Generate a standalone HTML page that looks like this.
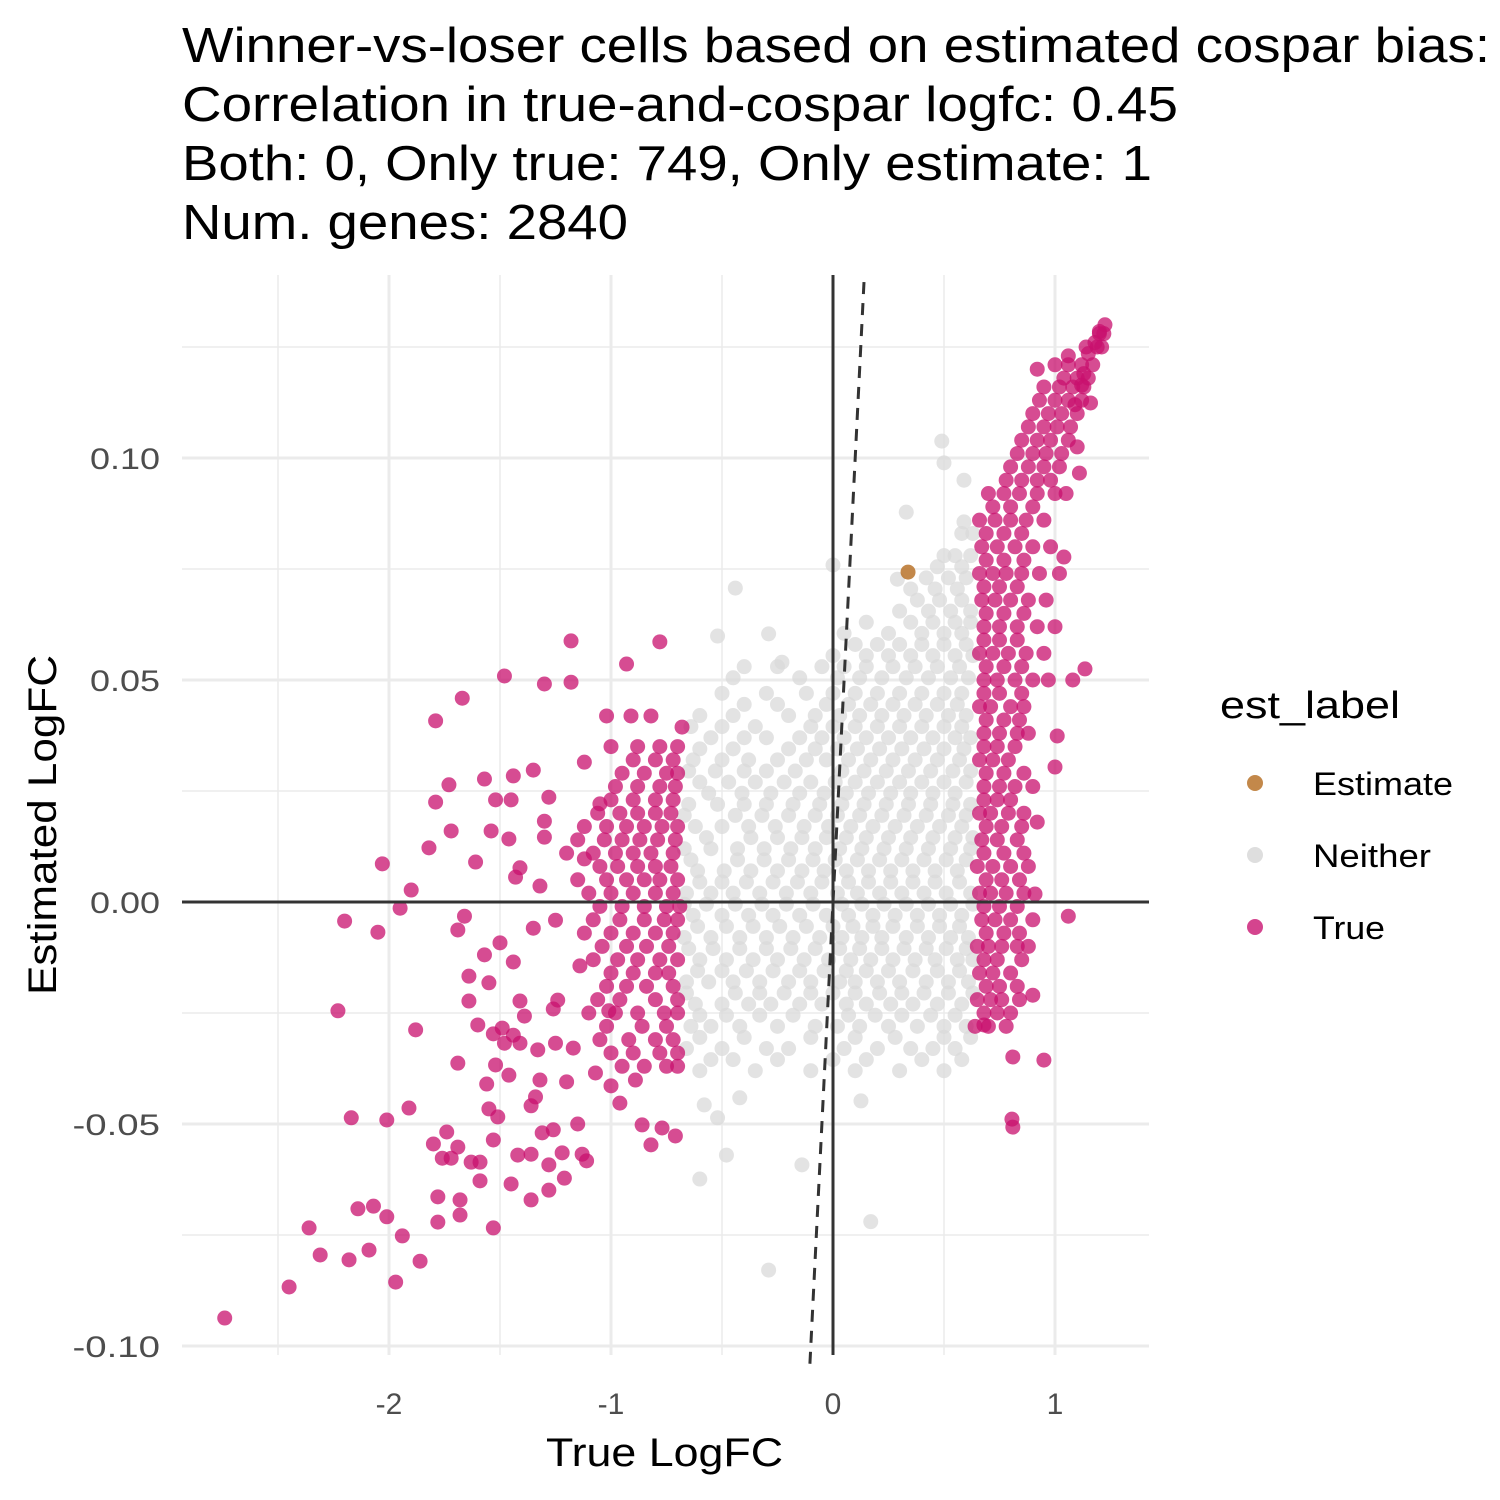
<!DOCTYPE html>
<html><head><meta charset="utf-8"><style>
html,body{margin:0;padding:0;background:#fff;}
svg{display:block;font-family:"Liberation Sans",sans-serif;}
</style></head><body>
<svg id="chart" width="1500" height="1500" viewBox="0 0 1500 1500" xmlns="http://www.w3.org/2000/svg">
<rect width="1500" height="1500" fill="#fff"/>
<g font-size="49" fill="#000" lengthAdjust="spacingAndGlyphs">
<text x="182" y="62" textLength="1308" lengthAdjust="spacingAndGlyphs">Winner-vs-loser cells based on estimated cospar bias:</text>
<text x="182" y="121" textLength="996" lengthAdjust="spacingAndGlyphs">Correlation in true-and-cospar logfc: 0.45</text>
<text x="182" y="180" textLength="970" lengthAdjust="spacingAndGlyphs">Both: 0, Only true: 749, Only estimate: 1</text>
<text x="182" y="239" textLength="446" lengthAdjust="spacingAndGlyphs">Num. genes: 2840</text>
</g>
<g id="grid"></g>
<g id="points"></g>
<g id="refs"></g>
<g id="axes"></g>
<text x="546" y="1466" font-size="40" textLength="237" lengthAdjust="spacingAndGlyphs">True LogFC</text>
<text transform="translate(56,995) rotate(-90)" font-size="40" textLength="340" lengthAdjust="spacingAndGlyphs">Estimated LogFC</text>
<g>
<text x="1220" y="718" font-size="38" textLength="180" lengthAdjust="spacingAndGlyphs">est_label</text>
<g><circle cx="1255" cy="783" r="8" fill="#B8732A" fill-opacity="0.85"/><text x="1313" y="795" font-size="32" textLength="140" lengthAdjust="spacingAndGlyphs">Estimate</text></g>
<g><circle cx="1255" cy="855" r="8" fill="#D6D6D6" fill-opacity="0.8"/><text x="1313" y="867" font-size="32" textLength="118" lengthAdjust="spacingAndGlyphs">Neither</text></g>
<g><circle cx="1255" cy="927" r="8" fill="#C8106E" fill-opacity="0.78"/><text x="1313" y="939" font-size="32" textLength="72" lengthAdjust="spacingAndGlyphs">True</text></g>
</g>
</svg>
<script>
const xTicks=[-2,-1,0,1];
const xTickLabels=["-2","-1","0","1"];
const xMinor=[-2.5,-1.5,-0.5,0.5];
const yTicks=[-0.10,-0.05,0.00,0.05,0.10];
const yTickLabels=["-0.10","-0.05","0.00","0.05","0.10"];
const yMinor=[-0.075,-0.025,0.025,0.075,0.125];

const trueOutX=[-2.74,-2.45,-2.36,-2.31,-2.18,-2.09,-2.14,-2.07,-2.01,-1.97,-1.94,-1.86,-2.23,-2.20,-2.17,-2.05,-2.03,-2.01,-1.95,-1.90,-1.91,-1.88,-1.82,-1.80,-1.79,-1.79,-1.78,-1.78,-1.76,-1.74,-1.73,-1.72,-1.72,-1.69,-1.69,-1.68,-1.68,-1.69,-1.67,-1.66,-1.64,-1.64,-1.63,-1.61,-1.60,-1.59,-1.59,-1.57,-1.57,-1.56,-1.55,-1.55,-1.54,-1.53,-1.53,-1.53,-1.52,-1.52,-1.51,-1.50,-1.49,-1.48,-1.48,-1.46,-1.46,-1.45,-1.45,-1.44,-1.44,-1.44,-1.43,-1.42,-1.41,-1.41,-1.41,-1.39,-1.36,-1.36,-1.36,-1.35,-1.35,-1.34,-1.33,-1.32,-1.32,-1.31,-1.30,-1.30,-1.30,-1.28,-1.28,-1.28,-1.26,-1.26,-1.25,-1.25,-1.24,-1.22,-1.21,-1.20,-1.18,-1.18,-1.17,-1.15,-1.14,-1.13,-1.12,-1.12,-1.11,-1.07,-1.05,-1.02,-1.01,-1.00,-0.96,-0.93,-0.91,-0.89,-0.86,-0.82,-0.82,-0.78,-0.77,-0.71,-0.68,
1.225,0.806,0.81,0.95,0.81,0.68,0.90,1.06,0.91,0.92,1.0,1.01,1.135,1.08,1.04,1.11,1.10,1.16,0.92,1.06,1.12,1.20,1.18,1.15,1.13,1.09];
const trueOutY=[-0.0937,-0.0867,-0.0734,-0.0795,-0.0806,-0.0784,-0.0691,-0.0685,-0.0709,-0.0856,-0.0752,-0.0809,-0.0245,-0.0043,-0.0486,-0.0068,0.0086,-0.0491,-0.0014,0.0027,-0.0464,-0.0288,0.0122,-0.0545,0.0408,0.0225,-0.0664,-0.0721,-0.0577,-0.0518,0.0264,0.016,-0.0577,-0.0363,-0.0063,-0.0671,-0.0705,-0.0552,0.0459,-0.0032,-0.0167,-0.0223,-0.0586,0.009,-0.0277,-0.0628,-0.0586,0.0277,-0.0119,-0.041,-0.0466,-0.0182,0.016,-0.0297,-0.0536,-0.0734,0.023,-0.0367,-0.0484,-0.0092,-0.0284,0.0509,-0.0318,0.0142,-0.039,0.023,-0.0635,0.0284,-0.0135,-0.03,0.0056,-0.057,-0.0318,0.0077,-0.0223,-0.0257,-0.0671,-0.0459,-0.0568,0.0297,-0.0059,-0.0439,-0.0333,-0.0401,0.0036,-0.052,0.0491,0.0182,0.0146,0.0236,-0.0592,-0.0649,-0.0241,-0.0513,-0.0318,-0.0041,-0.0221,-0.0565,-0.0622,-0.0405,0.0495,0.0588,-0.0329,-0.05,-0.0144,-0.0568,0.0315,0.0097,-0.0583,-0.0385,0.0221,0.0419,-0.0245,-0.0414,-0.0453,0.0536,0.0419,-0.0401,-0.0502,0.0419,-0.0547,0.0586,-0.0509,-0.0527,0.0394,
0.130,-0.0489,-0.0507,-0.0356,-0.0349,-0.0277,-0.021,-0.0032,0.0018,0.018,0.0304,0.0374,0.0525,0.05,0.0777,0.0966,0.1025,0.1124,0.12,0.123,0.1164,0.1285,0.126,0.1235,0.119,0.112];

const trueRowY=[-0.037,-0.031,-0.025,-0.019,-0.013,-0.007,-0.001,0.005,0.011,0.017,0.023,0.029,0.035,
-0.034,-0.028,-0.022,-0.016,-0.010,-0.004,0.002,0.008,0.014,0.020,0.026,0.032,
-0.028,-0.022,-0.016,-0.010,-0.004,0.002,0.008,0.014,0.020,0.026,0.032,0.038,0.044,0.050,0.056,0.062,0.068,0.074,0.080,0.086,0.092,0.098,0.104,0.110,0.116,0.121,0.125,0.128,
-0.025,-0.019,-0.013,-0.007,-0.001,0.005,0.011,0.017,0.023,0.029,0.035,0.041,0.047,0.053,0.059,0.065,0.071,0.077,0.083,0.089,0.095,0.101,0.107,0.113,0.118];
const trueRowX=[[-0.95,-0.85,-0.75,-0.70],[-1.05,-0.92,-0.80,-0.72],[-1.10,-0.98,-0.88,-0.76,-0.70],[-1.02,-0.93,-0.84,-0.72],[-1.08,-0.97,-0.88,-0.78,-0.70],[-1.12,-1.00,-0.90,-0.80,-0.72],[-1.05,-0.95,-0.85,-0.75,-0.69],[-1.15,-1.02,-0.93,-0.85,-0.78,-0.70],[-1.20,-1.08,-0.98,-0.90,-0.82,-0.72],[-1.12,-1.02,-0.93,-0.85,-0.77,-0.70],[-1.00,-0.90,-0.80,-0.72],[-0.95,-0.85,-0.75,-0.70],[-1.00,-0.88,-0.78,-0.70],
[-1.0,-0.9,-0.78,-0.7],[-1.02,-0.86,-0.75],[-1.06,-0.96,-0.8,-0.7],[-1.0,-0.9,-0.8,-0.74],[-1.04,-0.93,-0.84,-0.74],[-1.08,-0.96,-0.85,-0.76,-0.7],[-1.1,-1.0,-0.9,-0.8,-0.72],[-1.05,-0.97,-0.88,-0.8,-0.73],[-1.15,-1.03,-0.95,-0.87,-0.79,-0.71],[-1.06,-0.96,-0.88,-0.8,-0.73],[-0.98,-0.88,-0.78,-0.71],[-0.9,-0.8,-0.72],
[0.64,0.70,0.78],[0.65,0.71,0.76,0.84],[0.66,0.72,0.80],[0.65,0.70,0.76,0.83,0.88],[0.67,0.73,0.80,0.90],[0.66,0.71,0.78,0.86],[0.65,0.72,0.80,0.88],[0.67,0.74,0.83],[0.66,0.71,0.79,0.86],[0.68,0.75,0.82,0.90],[0.66,0.72,0.79],[0.68,0.75,0.83,0.88],[0.66,0.71,0.80,0.86],[0.68,0.74,0.82,0.90,0.97],[0.66,0.72,0.79,0.87,0.95],[0.68,0.75,0.83,0.92,1.00],[0.67,0.73,0.80,0.88,0.96],[0.66,0.72,0.78,0.85,0.93,1.02],[0.67,0.74,0.82,0.90,0.98],[0.66,0.73,0.80,0.87,0.95],[0.70,0.77,0.84,0.92,1.00,1.05],[0.80,0.88,0.95,1.02],[0.85,0.92,0.98,1.06],[0.90,0.97,1.03,1.10],[0.95,1.02,1.08,1.13],[1.00,1.06,1.12,1.17],[1.14,1.19,1.21],[1.20,1.22],
[0.68,0.74,0.8],[0.69,0.75,0.83],[0.68,0.74,0.85],[0.69,0.77,0.84],[0.68,0.75,0.83],[0.69,0.76,0.84],[0.68,0.77,0.86],[0.69,0.76,0.85],[0.68,0.74,0.8],[0.69,0.77,0.86],[0.68,0.74,0.82],[0.69,0.77,0.84],[0.68,0.75,0.85],[0.69,0.77,0.85],[0.68,0.75,0.83],[0.69,0.77,0.86],[0.68,0.75,0.83],[0.69,0.77,0.86],[0.69,0.77,0.85],[0.72,0.8,0.9],[0.78,0.85,0.92,0.98],[0.83,0.9,0.96,1.03],[0.88,0.95,1.01,1.07],[0.93,1.0,1.06,1.12],[1.04,1.1,1.15]];

const neitherOutX=[-0.29,0.17,-0.60,-0.14,-0.48,0.126,-0.58,-0.52,-0.42,-0.44,-0.29,0.0,0.49,0.50,0.33,0.29,0.59,0.59,-0.52,-0.23];
const neitherOutY=[-0.0829,-0.072,-0.0624,-0.0592,-0.057,-0.0448,-0.0457,-0.0486,-0.0441,0.0707,0.0604,0.0759,0.1038,0.0989,0.0878,0.0727,0.095,0.0856,0.0599,0.054];
const neitherRowY=[-0.038,-0.033,-0.028,-0.023,-0.018,-0.013,-0.008,-0.003,0.002,0.007,0.012,0.017,0.022,0.027,0.032,0.037,0.042,0.047,0.053,0.058,0.063,0.068,0.073,0.078,0.083,
-0.0355,-0.0305,-0.0255,-0.0205,-0.0155,-0.0105,-0.0055,-0.0005,0.0045,0.0095,0.0145,0.0195,0.0245,0.0295,0.0345,0.0395,0.0445,0.0505,0.0555,0.0605,0.0655,0.0705,0.0755];
const neitherRowX=[[-0.6,-0.35,-0.1,0.1,0.3,0.5],[-0.66,-0.5,-0.3,-0.2,0.05,0.2,0.35,0.45,0.55],[-0.64,-0.55,-0.42,-0.25,-0.08,0.02,0.12,0.25,0.38,0.5,0.6],[-0.62,-0.5,-0.38,-0.28,-0.15,-0.05,0.06,0.15,0.26,0.36,0.47,0.58],[-0.66,-0.56,-0.45,-0.33,-0.2,-0.1,0.03,0.1,0.2,0.3,0.42,0.52,0.61],[-0.6,-0.48,-0.36,-0.25,-0.13,-0.02,0.08,0.17,0.27,0.37,0.46,0.56,0.63],[-0.67,-0.55,-0.42,-0.3,-0.18,-0.06,0.04,0.13,0.22,0.33,0.43,0.53,0.61],[-0.63,-0.5,-0.38,-0.27,-0.15,-0.03,0.07,0.18,0.28,0.38,0.48,0.58],[-0.66,-0.55,-0.45,-0.33,-0.21,-0.1,0.02,0.11,0.21,0.31,0.41,0.51,0.62],[-0.61,-0.49,-0.37,-0.25,-0.14,-0.04,0.06,0.16,0.26,0.36,0.46,0.56],[-0.67,-0.55,-0.43,-0.31,-0.19,-0.08,0.03,0.13,0.23,0.33,0.43,0.53,0.62],[-0.62,-0.5,-0.38,-0.26,-0.13,-0.02,0.08,0.18,0.28,0.38,0.48,0.58],[-0.65,-0.52,-0.4,-0.3,-0.18,-0.06,0.04,0.14,0.24,0.34,0.44,0.54,0.62],[-0.6,-0.47,-0.35,-0.22,-0.1,0.01,0.1,0.2,0.3,0.4,0.5,0.6],[-0.63,-0.5,-0.38,-0.25,-0.12,-0.03,0.07,0.17,0.27,0.37,0.47,0.57],[-0.55,-0.4,-0.3,-0.15,-0.05,0.05,0.15,0.25,0.35,0.45,0.55,0.62],[-0.6,-0.45,-0.2,-0.08,0.03,0.12,0.22,0.32,0.42,0.52,0.6],[-0.5,-0.3,-0.12,0.0,0.1,0.2,0.3,0.4,0.5,0.58],[-0.4,-0.25,-0.05,0.05,0.15,0.27,0.37,0.47,0.57],[0.1,0.2,0.3,0.4,0.5,0.6],[0.15,0.35,0.45,0.55,0.62],[0.38,0.48,0.58],[0.42,0.52,0.6],[0.5,0.55,0.62],[0.58,0.63],
[-0.55,-0.45,-0.25,0.0,0.15,0.4,0.58],[-0.6,-0.4,-0.1,0.1,0.28,0.5,0.62],[-0.6,-0.48,-0.33,-0.18,0.07,0.19,0.31,0.44,0.55],[-0.66,-0.44,-0.33,-0.22,-0.1,0.0,0.1,0.21,0.31,0.41,0.52,0.63],[-0.61,-0.5,-0.39,-0.27,-0.15,-0.04,0.06,0.15,0.25,0.36,0.47,0.57],[-0.65,-0.54,-0.42,-0.3,-0.19,-0.08,0.03,0.12,0.22,0.32,0.42,0.51,0.6],[-0.61,-0.48,-0.36,-0.24,-0.12,0.0,0.09,0.18,0.27,0.38,0.48,0.57],[-0.67,-0.57,-0.44,-0.32,-0.21,-0.09,0.04,0.13,0.23,0.33,0.43,0.53,0.63],[-0.6,-0.5,-0.39,-0.27,-0.16,-0.05,0.07,0.16,0.26,0.36,0.46,0.57],[-0.64,-0.43,-0.31,-0.2,-0.09,0.01,0.11,0.21,0.31,0.41,0.51,0.6],[-0.57,-0.37,-0.25,-0.14,-0.03,0.06,0.15,0.25,0.35,0.45,0.55,0.63],[-0.67,-0.44,-0.32,-0.2,-0.08,0.02,0.12,0.22,0.32,0.42,0.52,0.6],[-0.56,-0.41,-0.28,-0.15,-0.04,0.06,0.16,0.26,0.35,0.45,0.55],[-0.65,-0.53,-0.4,-0.3,-0.17,0.04,0.14,0.24,0.34,0.44,0.54,0.62],[-0.6,-0.45,-0.2,-0.08,0.02,0.11,0.21,0.31,0.41,0.5,0.59],[-0.64,-0.5,-0.35,-0.1,0.0,0.1,0.2,0.3,0.4,0.5,0.58],[-0.4,-0.25,-0.03,0.07,0.17,0.27,0.37,0.47,0.56],[-0.45,-0.15,0.02,0.12,0.22,0.33,0.43,0.53,0.61],[0.0,0.15,0.25,0.35,0.45,0.55,0.63],[0.05,0.25,0.4,0.5,0.58],[0.3,0.43,0.53,0.62],[0.35,0.46,0.56],[0.47,0.58]];

const estimateX=[0.338];
const estimateY=[0.0743];

const NS="http://www.w3.org/2000/svg";
const PL=182,PR=1149,PT=275,PB=1355;
function sx(v){return 833+v*222;}
function sy(v){return 902-v*4440;}
function mk(tag,attrs,parent){const e=document.createElementNS(NS,tag);for(const k in attrs)e.setAttribute(k,attrs[k]);parent.appendChild(e);return e;}
const grid=document.getElementById('grid');
xMinor.forEach(v=>{const l=mk('line',{x1:sx(v),x2:sx(v),y1:PT,y2:PB,stroke:'#EBEBEB','stroke-width':1.5},grid);

});
yMinor.forEach(v=>{const l=mk('line',{x1:PL,x2:PR,y1:sy(v),y2:sy(v),stroke:'#EBEBEB','stroke-width':1.5},grid);

});
xTicks.forEach(v=>{const l=mk('line',{x1:sx(v),x2:sx(v),y1:PT,y2:PB,stroke:'#EBEBEB','stroke-width':3},grid);

});
yTicks.forEach(v=>{const l=mk('line',{x1:PL,x2:PR,y1:sy(v),y2:sy(v),stroke:'#EBEBEB','stroke-width':3},grid);

});
const axes=document.getElementById('axes');
xTicks.forEach((v,i)=>{const t=mk('text',{x:sx(v),y:1414,'font-size':30,fill:'#4D4D4D','text-anchor':'middle'},axes);t.textContent=xTickLabels[i];

});
yTicks.forEach((v,i)=>{const w=yTickLabels[i].length*17.5;const t=mk('text',{x:160-w,y:sy(v)+11,'font-size':30,fill:'#4D4D4D',textLength:w,lengthAdjust:'spacingAndGlyphs'},axes);t.textContent=yTickLabels[i];

});
const pts=document.getElementById('points');
function dot(x,y,fill,op,name){const c=mk('circle',{cx:sx(x),cy:sy(y),r:7.5,fill:fill,'fill-opacity':op},pts);

}
neitherRowY.forEach((y,i)=>neitherRowX[i].forEach(x=>dot(x,y,'#D9D9D9',0.75,'point-neither')));
neitherOutX.forEach((x,i)=>dot(x,neitherOutY[i],'#D9D9D9',0.75,'point-neither'));
trueRowY.forEach((y,i)=>trueRowX[i].forEach(x=>dot(x,y,'#C8106E',0.75,'point-true')));
trueOutX.forEach((x,i)=>dot(x,trueOutY[i],'#C8106E',0.75,'point-true'));
estimateX.forEach((x,i)=>dot(x,estimateY[i],'#B8732A',0.85,'point-estimate'));
const refs=document.getElementById('refs');
const h=mk('line',{x1:PL,x2:PR,y1:sy(0),y2:sy(0),stroke:'#333','stroke-width':3},refs);


const vl=mk('line',{x1:sx(0),x2:sx(0),y1:PT,y2:PB,stroke:'#333','stroke-width':3},refs);


const d=mk('line',{x1:sx(-0.104),y1:sy(-0.104),x2:sx(0.1405),y2:sy(0.1405),stroke:'#333','stroke-width':3,'stroke-dasharray':'12,9'},refs);


</script>
</body></html>
